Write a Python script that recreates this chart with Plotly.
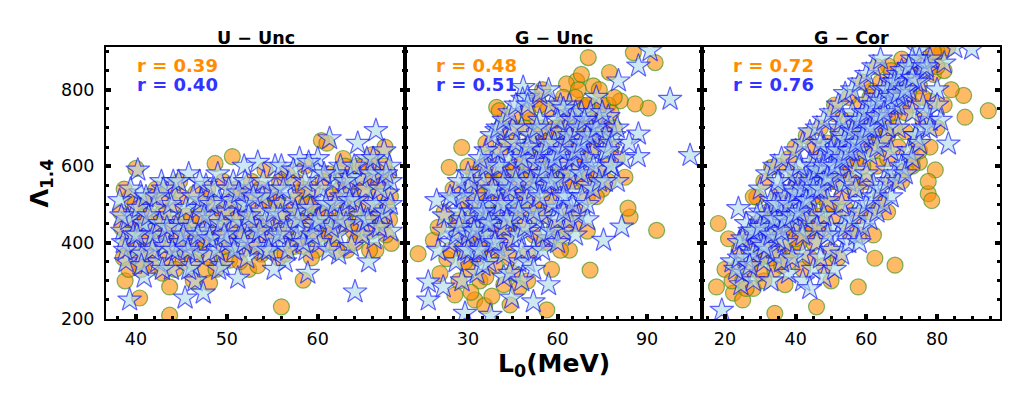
import plotly.graph_objects as go
from plotly.subplots import make_subplots

# panel titles and correlation coefficients
titles = ["U \u2212 Unc", "G \u2212 Unc", "G \u2212 Cor"]
r_orange = ["0.39", "0.48", "0.72"]
r_blue = ["0.40", "0.51", "0.76"]

# U - Unc, circles
u_unc_c_x = [38.3, 38.6, 39.0, 39.4, 38.8, 39.8, 40.2, 40.0, 40.6, 41.0, 41.3, 40.4, 41.8, 42.2, 42.5, 42.9,
             43.3, 43.7, 43.7, 44.1, 44.4, 44.8, 45.2, 45.5, 45.9, 46.3, 46.6, 47.0, 47.4, 47.7, 48.1, 48.7,
             48.4, 48.9, 49.3, 49.6, 50.0, 50.3, 50.6, 50.9, 51.3, 51.6, 52.0, 52.4, 52.7, 53.1, 53.5, 53.8,
             54.2, 54.6, 55.0, 55.3, 55.7, 56.0, 56.2, 56.6, 57.0, 57.4, 57.8, 58.1, 58.4, 58.6, 59.0, 59.4,
             59.8, 60.1, 60.4, 60.7, 61.0, 61.2, 61.6, 62.0, 62.4, 62.8, 63.2, 63.6, 64.0, 64.4, 64.8, 65.2,
             65.6, 66.0, 66.4, 66.8, 67.2, 67.4, 67.8, 68.1, 67.6, 66.2, 41.5, 44.9, 47.8, 53.0, 59.1, 63.9]
u_unc_c_y = [480, 360, 420, 520, 300, 390, 450, 594, 330, 500, 410, 255, 370, 540, 460, 320,
             430, 210, 284, 500, 390, 560, 350, 470, 420, 300, 530, 380, 450, 330, 294, 607,
             500, 410, 360, 560, 470, 354, 625, 420, 520, 380, 470, 330, 560, 430, 500, 370,
             590, 450, 410, 520, 360, 232, 480, 580, 430, 390, 520, 470, 302, 600, 420, 540,
             380, 480, 667, 440, 660, 580, 400, 510, 460, 620, 380, 540, 490, 600, 420, 560,
             470, 630, 380, 530, 450, 650, 580, 398, 500, 560, 470, 440, 520, 390, 500, 430]
u_unc_c_more = [(38.4, 440), (38.9, 390), (39.5, 460), (40.1, 350), (40.7, 420), (41.1, 380), (41.6, 520),
                (42.0, 430), (42.4, 400), (43.0, 480), (43.5, 360), (44.0, 450), (44.6, 410), (45.0, 520),
                (45.6, 380), (46.1, 460), (46.6, 400), (47.1, 500), (47.6, 420), (48.0, 360), (48.6, 470),
                (49.1, 430), (49.7, 390), (50.1, 510), (50.6, 440), (51.1, 480), (51.7, 420), (52.2, 530),
                (52.6, 400), (53.2, 460), (53.7, 540), (54.1, 420), (54.7, 500), (55.2, 450), (55.8, 560),
                (56.3, 420), (56.8, 500), (57.3, 470), (57.9, 410), (58.4, 540), (58.9, 460), (59.5, 500),
                (60.0, 420), (60.6, 560), (61.1, 480), (61.6, 520), (62.2, 440), (62.7, 570), (63.2, 480),
                (63.8, 520), (64.3, 450), (64.9, 540), (65.4, 500), (65.9, 430), (66.5, 480), (67.0, 560),
                (67.5, 420), (68.0, 520), (66.1, 600), (63.0, 600),
                (38.7, 540), (39.2, 330), (39.9, 500), (40.9, 470), (41.7, 340), (42.7, 510), (43.6, 540),
                (44.3, 330), (45.3, 430), (46.2, 350), (46.9, 470), (47.9, 540), (48.8, 330), (49.5, 480),
                (50.4, 400), (51.4, 350), (52.3, 440), (53.4, 340), (54.4, 380), (55.5, 510), (56.4, 370),
                (57.6, 560), (58.3, 390), (59.3, 360), (60.3, 470), (61.3, 420), (62.1, 380), (63.0, 460),
                (64.1, 400), (65.0, 600), (65.7, 380), (66.7, 470), (67.3, 600), (67.9, 460), (62.5, 540),
                (58.7, 500), (54.9, 530), (51.0, 540), (47.3, 410), (43.9, 390)]

# U - Unc, stars
u_unc_s_x = [38.2, 38.5, 38.9, 39.3, 39.6, 40.0, 40.2, 40.5, 40.9, 41.2, 41.6, 42.0, 42.4, 42.8, 43.1, 43.5,
             43.9, 44.3, 44.6, 45.0, 45.4, 45.8, 46.1, 46.5, 46.9, 47.3, 47.4, 47.7, 48.0, 48.4, 48.8, 49.2,
             49.5, 49.9, 50.3, 50.7, 51.1, 51.2, 51.5, 51.8, 52.2, 52.6, 53.0, 53.4, 53.7, 54.1, 54.5, 54.9,
             55.3, 55.6, 56.0, 56.4, 56.8, 57.2, 57.6, 58.0, 58.3, 58.7, 59.1, 59.5, 59.9, 60.2, 60.6, 61.0,
             61.3, 61.7, 62.1, 62.5, 62.9, 63.3, 63.7, 64.1, 64.4, 64.6, 65.0, 65.4, 65.8, 66.2, 66.4, 66.6,
             67.0, 67.3, 67.7, 68.0, 67.9, 65.6, 62.3, 58.9, 55.2, 51.9, 44.1, 40.8, 46.2, 49.0]
u_unc_s_y = [510, 430, 350, 250, 470, 380, 590, 530, 310, 440, 400, 490, 350, 560, 420, 470,
             330, 520, 380, 450, 255, 580, 400, 300, 490, 430, 268, 550, 370, 460, 410, 510,
             340, 480, 430, 560, 390, 307, 500, 450, 360, 540, 420, 610, 480, 380, 530, 440,
             600, 400, 500, 350, 560, 450, 410, 620, 490, 380, 540, 440, 590, 400, 510, 460,
             672, 560, 420, 600, 480, 530, 390, 271, 660, 570, 450, 620, 500, 410, 693, 580,
             470, 640, 530, 430, 600, 350, 370, 320, 330, 600, 560, 450, 340, 580]
u_unc_s_more = [(38.6, 400), (39.1, 460), (39.7, 420), (40.3, 490), (40.7, 370), (41.4, 470), (41.9, 420),
                (42.6, 450), (43.2, 390), (43.8, 500), (44.4, 440), (44.9, 400), (45.5, 490), (46.0, 440),
                (46.7, 370), (47.2, 510), (47.8, 430), (48.3, 500), (48.9, 380), (49.4, 450), (50.0, 400),
                (50.5, 510), (51.0, 460), (51.6, 420), (52.1, 500), (52.7, 450), (53.3, 390), (53.9, 520),
                (54.3, 460), (54.8, 410), (55.4, 540), (55.9, 470), (56.5, 430), (57.0, 520), (57.5, 480),
                (58.1, 430), (58.6, 560), (59.2, 490), (59.7, 450), (60.3, 540), (60.9, 500), (61.5, 440),
                (62.0, 580), (62.6, 520), (63.1, 450), (63.6, 570), (64.2, 510), (64.7, 470), (65.3, 540),
                (65.8, 580), (66.3, 500), (66.9, 540), (67.4, 480), (68.0, 560), (60.0, 620), (56.0, 600),
                (52.0, 560), (47.0, 560), (43.0, 540), (45.8, 330),
                (38.4, 470), (38.8, 380), (39.4, 540), (40.1, 420), (40.6, 340), (41.1, 520), (41.8, 380),
                (42.3, 520), (42.9, 330), (43.4, 440), (44.0, 380), (44.7, 560), (45.2, 420), (45.7, 380),
                (46.3, 520), (46.8, 420), (47.5, 470), (48.1, 410), (48.6, 540), (49.1, 330), (49.7, 420),
                (50.2, 540), (50.8, 380), (51.3, 530), (51.9, 400), (52.4, 470), (52.9, 520), (53.6, 430),
                (54.0, 560), (54.6, 380), (55.1, 480), (55.7, 420), (56.2, 540), (56.7, 380), (57.3, 590),
                (57.8, 460), (58.4, 400), (59.0, 610), (59.4, 420), (60.1, 460), (60.7, 580), (61.2, 380),
                (61.9, 500), (62.4, 460), (63.0, 560), (63.5, 510), (64.0, 600), (64.9, 420), (65.5, 460),
                (66.1, 620), (66.8, 440), (67.5, 580), (68.0, 500)]

# G - Unc, circles
g_unc_c_x = [13.3, 23.7, 27.9, 18.4, 20.0, 22.9, 20.6, 25.6, 32.3, 35.6, 44.1, 56.4, 70.9, 93.2, 84.3, 83.6,
             82.6, 85.4, 92.7, 77.4, 70.3, 90.4, 86.0, 81.0, 66.4, 63.0, 53.0, 39.6, 40.5, 31.2,
             26, 28, 29, 30, 31, 32, 33, 34, 35, 36, 37, 38, 39, 40, 41, 42, 43, 44, 45, 46, 47, 48, 49, 50,
             51, 52, 53, 54, 55, 56, 57, 58, 59, 60, 61, 62, 63, 64, 65, 66, 67, 68, 69, 70, 71, 72, 73, 74,
             75, 76, 77, 78, 79, 80, 72, 68, 58, 50, 42, 36, 61, 64, 75, 66, 48, 38, 33, 54, 46, 57]
g_unc_c_y = [371, 597, 649, 406, 440, 358, 319, 263, 250, 235, 237, 224, 328, 432, 467, 490,
             571, 897, 871, 845, 884, 752, 763, 771, 823, 815, 775, 754, 745, 549,
             450, 380, 500, 330, 420, 580, 470, 300, 520, 390, 620, 450, 340, 560, 480, 660, 400, 590, 320, 700,
             510, 440, 630, 370, 720, 560, 470, 680, 400, 610, 750, 520, 440, 700, 580, 780, 480, 650, 740, 560,
             800, 620, 700, 520, 760, 640, 580, 720, 680, 600, 760, 650, 700, 620, 810, 840, 330, 300, 290, 310,
             420, 380, 540, 450, 580, 560, 360, 760, 600, 680]
g_unc_c_more = [(28, 420), (30, 460), (32, 400), (33, 530), (35, 450), (36, 560), (38, 500), (39, 600),
                (40, 430), (41, 640), (43, 520), (44, 450), (45, 660), (47, 560), (48, 490), (49, 700),
                (50, 520), (51, 600), (53, 640), (54, 560), (55, 700), (56, 500), (58, 620), (59, 700),
                (60, 560), (62, 660), (63, 720), (64, 560), (65, 640), (66, 700), (67, 620), (68, 760),
                (69, 560), (70, 700), (71, 640), (72, 740), (73, 680), (74, 800), (76, 700), (78, 740),
                (62, 600), (57, 580), (52, 500), (46, 480), (41, 380), (37, 400), (34, 420), (44, 360),
                (60, 640), (66, 780),
                (27, 460), (29, 350), (31, 510), (33, 420), (35, 600), (37, 480), (38, 380), (40, 520),
                (42, 580), (43, 440), (45, 540), (47, 620), (49, 560), (51, 660), (52, 420), (54, 620),
                (56, 660), (58, 560), (60, 760), (62, 700), (64, 690), (66, 610), (68, 680), (70, 760),
                (73, 720), (75, 760), (77, 700), (79, 780), (71, 580), (55, 470),
                (57, 400), (63, 440), (67, 480), (73, 520), (77, 560), (70, 430), (61, 380), (36, 660),
                (41, 700), (45, 730), (50, 740), (55, 800), (30, 600), (25, 540), (22, 480), (24, 380),
                (27, 300), (31, 270), (38, 260), (47, 280)]

# G - Unc, stars
g_unc_s_x = [104.4, 97.7, 87.1, 80.4, 91.0, 48.5, 48.3, 16.7, 16.7, 19.5, 25.0, 21.7, 51.9, 44.7, 57.0, 87.1,
             87.0, 81.5, 75.4, 39.6, 29.0, 37.5,
             22, 24, 26, 27, 28, 29, 30, 31, 32, 33, 34, 35, 36, 37, 38, 39, 40, 41, 42, 43, 44, 45, 46, 47,
             48, 49, 50, 51, 52, 53, 54, 55, 56, 57, 58, 59, 60, 61, 62, 63, 64, 65, 66, 67, 68, 69, 70, 71,
             72, 73, 74, 75, 76, 77, 78, 79, 80, 82, 84, 70, 63, 56, 45, 38, 31, 52, 59, 66, 43, 35, 61, 50]
g_unc_s_y = [628, 775, 862, 823, 902, 806, 775, 250, 297, 510, 514, 284, 245, 255, 290, 684,
             625, 441, 406, 693, 215, 210,
             470, 400, 350, 480, 300, 430, 540, 370, 460, 320, 580, 420, 500, 350, 620, 460, 390, 540, 310, 660,
             480, 410, 580, 350, 700, 500, 430, 620, 380, 560, 720, 470, 640, 410, 760, 560, 490, 690, 430, 610,
             760, 530, 680, 470, 740, 600, 550, 700, 640, 780, 590, 690, 640, 730, 600, 680, 560, 620, 660, 460,
             520, 550, 520, 400, 480, 660, 620, 590, 560, 340, 760, 780]
g_unc_s_more = [(26, 420), (28, 460), (29, 380), (30, 420), (32, 520), (33, 440), (34, 480), (35, 560),
                (36, 420), (37, 500), (38, 460), (39, 540), (40, 480), (41, 600), (42, 440), (43, 500),
                (44, 620), (45, 460), (46, 500), (47, 640), (48, 560), (49, 600), (50, 520), (51, 680),
                (52, 540), (53, 610), (54, 580), (55, 640), (56, 700), (57, 560), (58, 620), (59, 660),
                (60, 600), (61, 560), (62, 640), (63, 700), (64, 580), (65, 620), (66, 740), (67, 640),
                (68, 580), (69, 660), (70, 620), (71, 740), (72, 680), (74, 720), (76, 680), (78, 660),
                (47, 420), (53, 460), (58, 500), (64, 460), (40, 600), (46, 660), (36, 460), (33, 380),
                (50, 350), (55, 380), (44, 320), (62, 750),
                (27, 440), (28, 520), (30, 380), (31, 560), (32, 430), (33, 500), (34, 380), (35, 480),
                (36, 600), (37, 450), (38, 540), (39, 400), (40, 640), (41, 500), (42, 560), (43, 460),
                (44, 540), (45, 700), (46, 560), (47, 480), (48, 620), (49, 440), (50, 650), (51, 560),
                (52, 480), (53, 700), (54, 520), (55, 580), (56, 600), (57, 660), (58, 560), (59, 620),
                (60, 720), (61, 640), (62, 520), (63, 660), (64, 680), (65, 720), (66, 640), (67, 700),
                (68, 660), (69, 720), (70, 680), (72, 600), (73, 700), (75, 740), (77, 640), (80, 700),
                (42, 370), (48, 380),
                (55, 420), (58, 430), (60, 460), (62, 480), (65, 500), (68, 520), (70, 500), (72, 540),
                (74, 560), (76, 560), (78, 600), (66, 420), (60, 400), (52, 330), (48, 300), (36, 640),
                (38, 680), (40, 700), (42, 720), (44, 740), (46, 760), (50, 760), (54, 790), (57, 800),
                (34, 620), (30, 580), (27, 560), (24, 520), (22, 430), (20, 380)]

# G - Cor, circles
g_cor_c_x = [94.5, 87.9, 68.1, 57.7, 45.9, 18.1, 21.0, 17.6, 22.4, 34.1, 39.8, 33.2, 29.0, 66.2, 81.3, 87.5,
             77.5, 78.5, 79.5, 77.5, 61.5, 51.1, 62.4,
             20, 22, 24, 25, 26, 27, 28, 29, 30, 31, 32, 33, 34, 35, 36, 37, 38, 39, 40, 41, 42, 43, 44, 45,
             46, 47, 48, 49, 50, 51, 52, 53, 54, 55, 56, 57, 58, 59, 60, 61, 62, 63, 64, 65, 66, 67, 68, 69,
             70, 71, 72, 73, 74, 75, 76, 77, 78, 79, 80, 82, 84, 83, 71, 64, 58, 50, 44, 36, 73, 75, 33]
g_cor_c_y = [745, 728, 341, 284, 232, 450, 410, 284, 268, 215, 649, 597, 519, 862, 897, 785,
             528, 510, 590, 560, 797, 737, 359,
             330, 300, 380, 250, 420, 330, 280, 450, 360, 300, 480, 400, 330, 520, 430, 290, 470, 380, 550, 440,
             330, 560, 480, 400, 620, 520, 430, 660, 560, 470, 690, 590, 490, 720, 620, 540, 760, 650, 560, 780,
             680, 600, 820, 710, 620, 850, 740, 650, 800, 690, 860, 760, 660, 810, 720, 880, 770, 840, 900, 850,
             800, 910, 590, 520, 470, 380, 360, 340, 620, 610, 470]
g_cor_c_more = [(25, 300), (27, 410), (29, 360), (31, 420), (33, 360), (34, 440), (36, 390), (37, 480),
                (39, 430), (40, 500), (42, 470), (43, 420), (45, 520), (46, 470), (48, 560), (49, 500),
                (51, 560), (52, 620), (54, 580), (55, 640), (57, 620), (58, 690), (60, 660), (61, 720),
                (63, 700), (64, 740), (66, 730), (67, 790), (69, 760), (70, 830), (72, 790), (74, 840),
                (76, 870), (78, 860), (80, 860), (56, 560), (62, 640), (47, 450), (41, 400), (68, 700),
                (24, 340), (26, 280), (28, 400), (30, 320), (32, 420), (35, 370), (38, 520), (40, 410),
                (42, 560), (44, 450), (47, 590), (50, 500), (53, 520), (56, 680), (59, 600), (62, 740),
                (65, 660), (68, 800), (71, 740), (73, 820), (76, 780), (79, 900), (45, 440), (52, 650),
                (59, 720), (66, 680), (70, 880), (38, 350), (31, 380), (55, 600),
                (48, 340), (52, 360), (55, 430), (58, 420), (61, 480), (64, 500), (67, 560), (70, 560),
                (73, 600), (75, 640), (78, 650), (80, 700), (82, 760), (50, 300), (62, 420), (66, 480),
                (28, 520), (31, 560), (35, 600), (38, 620), (43, 680), (47, 700), (51, 760), (55, 780),
                (59, 820), (63, 860), (45, 650), (40, 580)]

# G - Cor, stars
g_cor_s_x = [23.8, 19.1, 74.7, 89.8, 83.2, 24.5,
             22, 24, 25, 26, 27, 28, 29, 30, 31, 32, 33, 34, 35, 36, 37, 38, 39, 40, 41, 42, 43, 44, 45, 46,
             47, 48, 49, 50, 51, 52, 53, 54, 55, 56, 57, 58, 59, 60, 61, 62, 63, 64, 65, 66, 67, 68, 69, 70,
             71, 72, 73, 74, 75, 76, 77, 78, 80, 82, 85, 55, 48, 41, 36, 63, 69, 45, 52, 58, 66, 60, 43, 50]
g_cor_s_y = [489, 223, 902, 906, 658, 290,
             350, 400, 320, 450, 380, 300, 420, 480, 350, 430, 510, 370, 460, 540, 400, 320, 500, 580, 440, 370,
             540, 610, 470, 400, 580, 650, 510, 440, 620, 700, 550, 470, 660, 740, 590, 510, 700, 770, 630, 550,
             720, 800, 670, 590, 760, 830, 700, 620, 790, 860, 740, 680, 820, 760, 850, 720, 800, 870, 910, 560,
             470, 520, 350, 650, 760, 560, 600, 640, 700, 680, 460, 560]
g_cor_s_more = [(23, 330), (26, 360), (27, 430), (28, 370), (29, 470), (30, 400), (31, 440), (32, 380),
                (33, 450), (34, 500), (35, 410), (36, 470), (37, 520), (38, 450), (39, 540), (40, 480),
                (41, 560), (42, 500), (43, 580), (44, 520), (45, 600), (46, 540), (47, 620), (48, 560),
                (49, 640), (50, 600), (51, 660), (52, 580), (53, 680), (54, 620), (55, 700), (56, 640),
                (57, 720), (58, 660), (59, 740), (60, 700), (61, 760), (62, 700), (63, 780), (64, 720),
                (65, 800), (66, 760), (67, 820), (68, 760), (69, 840), (70, 780), (71, 830), (72, 800),
                (73, 880), (74, 820), (76, 860), (78, 880), (39, 360), (46, 440), (53, 500), (60, 580),
                (67, 640), (33, 300), (42, 420), (57, 540),
                (24, 360), (25, 410), (27, 340), (28, 430), (30, 440), (31, 390), (32, 470), (33, 420),
                (34, 460), (35, 500), (36, 430), (37, 460), (38, 500), (39, 470), (40, 530), (41, 480),
                (42, 540), (43, 510), (44, 560), (45, 540), (46, 590), (47, 540), (48, 600), (49, 570),
                (50, 640), (51, 600), (52, 640), (53, 620), (54, 670), (55, 640), (56, 690), (57, 660),
                (58, 720), (59, 680), (60, 740), (61, 700), (62, 760), (63, 730), (64, 770), (65, 740),
                (66, 800), (67, 780), (68, 820), (69, 790), (70, 850), (71, 800), (72, 860), (73, 830),
                (75, 880), (77, 860),
                (45, 330), (47, 360), (48, 310), (50, 380), (51, 330), (52, 420), (53, 370), (54, 440),
                (55, 400), (56, 460), (57, 420), (58, 480), (59, 440), (60, 500), (61, 460), (62, 520),
                (63, 480), (64, 540), (65, 500), (66, 560), (67, 520), (68, 580), (69, 560), (70, 600),
                (71, 580), (72, 640), (73, 620), (74, 680), (75, 660), (76, 700), (77, 740), (78, 700),
                (80, 760), (81, 720), (42, 300), (44, 280), (49, 420), (58, 400),
                (30, 540), (32, 580), (34, 600), (36, 620), (38, 580), (40, 640), (42, 660), (44, 690),
                (46, 700), (48, 720), (50, 740), (52, 760), (54, 790), (56, 800), (58, 820), (60, 840),
                (62, 860), (64, 880), (35, 560), (41, 600), (47, 660), (53, 720)]


def join(xs, ys, more):
    return xs + [p[0] for p in more], ys + [p[1] for p in more]


circle_data = [join(u_unc_c_x, u_unc_c_y, u_unc_c_more),
               join(g_unc_c_x, g_unc_c_y, g_unc_c_more),
               join(g_cor_c_x, g_cor_c_y, g_cor_c_more)]
star_data = [join(u_unc_s_x, u_unc_s_y, u_unc_s_more),
             join(g_unc_s_x, g_unc_s_y, g_unc_s_more),
             join(g_cor_s_x, g_cor_s_y, g_cor_s_more)]

# the page puts the figure 8px in from the left; vertically the shot comes out
# a little squeezed, so target pixel rows are mapped back through that
OFF = 8
W, H = 1028 - OFF, 400
Y0, YS = 7, 0.978
FONT = "DejaVu Sans"
ORANGE = "#ff8c00"
BLUE = "#3333ff"


def fx(px):
    return (px - OFF) / W


def fy(py):
    return 1 - ((py - Y0) / YS) / H


fig = make_subplots(rows=1, cols=3, shared_yaxes=True, horizontal_spacing=0)

for i in range(3):
    cx, cy = circle_data[i]
    sx, sy = star_data[i]
    fig.add_trace(go.Scatter(x=cx, y=cy, mode="markers", showlegend=False,
                             marker=dict(symbol="circle", size=16, color="rgba(255,140,0,0.6)",
                                         line=dict(color="rgba(40,140,20,0.6)", width=1.2))),
                  row=1, col=i + 1)
    fig.add_trace(go.Scatter(x=sx, y=sy, mode="markers", showlegend=False,
                             marker=dict(symbol="star", size=18, color="rgba(173,216,230,0.6)",
                                         line=dict(color="rgba(0,0,255,0.6)", width=1.2))),
                  row=1, col=i + 1)

# pixel layout of the three panels (in the 1028x408 picture)
panel_px = [(106, 405), (405, 702), (702, 1000)]
x_ranges = [[36.7, 69.6], [8.9, 108.4], [13.5, 97.8]]
x_major = [10, 30, 20]
x_minor = [2, 5, 5]
y_dom = [fy(319), fy(46)]

tick_common = dict(ticks="inside", ticklen=5, tickwidth=4, tickcolor="black",
                   showline=True, linewidth=2, linecolor="black", showgrid=False, zeroline=False,
                   tickfont=dict(family=FONT, size=17.5, color="black"))

for i in range(3):
    x0, x1 = panel_px[i]
    fig.update_xaxes(domain=[fx(x0), fx(x1)], range=x_ranges[i], dtick=x_major[i], tick0=0,
                     mirror=True, ticklabelstandoff=3,
                     minor=dict(ticks="inside", dtick=x_minor[i], tick0=0, ticklen=3, tickwidth=2.5,
                                tickcolor="black", showgrid=False),
                     row=1, col=i + 1, **tick_common)
    fig.update_yaxes(domain=y_dom, range=[200, 912], dtick=200, tick0=0, mirror="ticks",
                     showticklabels=(i == 0), ticklabelstandoff=6,
                     minor=dict(ticks="inside", dtick=50, tick0=0, ticklen=3, tickwidth=2.5,
                                tickcolor="black", showgrid=False),
                     row=1, col=i + 1, **tick_common)

annotations = []
for i in range(3):
    x0, x1 = panel_px[i]
    annotations.append(dict(text="<b>" + titles[i] + "</b>", x=fx((x0 + x1) / 2), y=fy(37),
                            xref="paper", yref="paper", xanchor="center", yanchor="middle",
                            showarrow=False, font=dict(family=FONT, size=17.5, color="black")))
    annotations.append(dict(text="<b>r = " + r_orange[i] + "</b>", x=fx(x0 + 29), y=fy(65),
                            xref="paper", yref="paper", xanchor="left", yanchor="middle",
                            showarrow=False, font=dict(family=FONT, size=18, color=ORANGE)))
    annotations.append(dict(text="<b>r = " + r_blue[i] + "</b>", x=fx(x0 + 29), y=fy(84),
                            xref="paper", yref="paper", xanchor="left", yanchor="middle",
                            showarrow=False, font=dict(family=FONT, size=18, color=BLUE)))

# axis titles
annotations.append(dict(text="<b>L<sub>0</sub>(MeV)</b>", x=fx(554), y=fy(365),
                        xref="paper", yref="paper", xanchor="center", yanchor="middle",
                        showarrow=False, font=dict(family=FONT, size=25, color="black")))
annotations.append(dict(text="<b>\u039b<sub>1.4</sub></b>", x=fx(41), y=fy(183),
                        xref="paper", yref="paper", xanchor="center", yanchor="middle",
                        showarrow=False, textangle=-90, font=dict(family=FONT, size=24, color="black")))

fig.update_layout(width=W, height=H, margin=dict(l=0, r=0, t=0, b=0),
                  plot_bgcolor="white", paper_bgcolor="white",
                  annotations=annotations, font=dict(family=FONT))

fig.write_html("out.html")
